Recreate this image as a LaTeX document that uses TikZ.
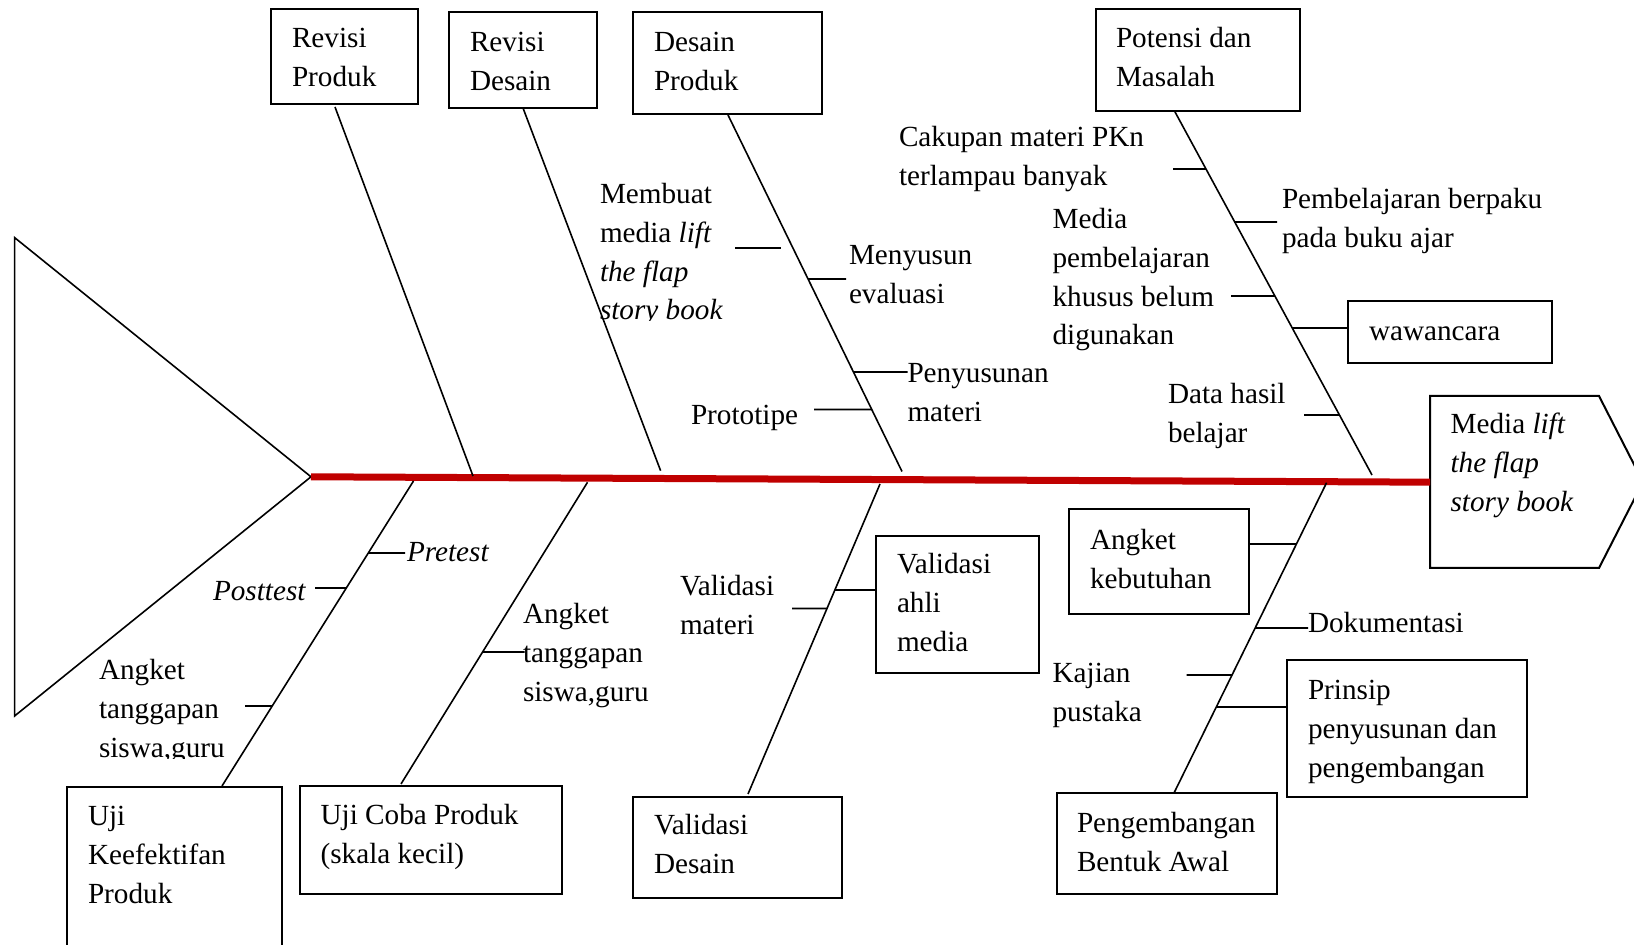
\documentclass[tikz,border=0pt]{standalone}
\usepackage{fontspec}
\setmainfont{Liberation Serif}
\usetikzlibrary{calc}
\definecolor{spinered}{RGB}{192,0,0}
\begin{document}
\begin{tikzpicture}[x=0.5pt,y=-0.5pt,
  ln/.style={line width=0.8pt},
  tick/.style={line width=0.9pt},
  box/.style={draw, line width=1pt, rectangle, inner sep=0pt, outer sep=0pt, anchor=north west},
  lbl/.style={anchor=north west, inner sep=0pt, outer sep=0pt, align=left, font=\fontsize{14.6}{19.4}\selectfont},
]
\useasboundingbox (0,0) rectangle (1634,945);

% fish tail (triangle) and head
\draw[ln] (14.6,237.6) -- (311,476.8) -- (14.6,716) -- cycle;
\draw[line width=1pt] (1430,396) -- (1599,396) -- (1643,482) -- (1599,568) -- (1430,568) -- cycle;
\node[lbl] (head) at (1450.6,406.3) {\strut Media \textit{lift}\\\textit{the flap}\\\textit{story book}};

% spine
\coordinate (sL) at (311,476.8);
\coordinate (sR) at (1430,482.2);
\draw[spinered, line width=3.5pt] (sL) -- (sR);

% boxes
\node[box, minimum width=73.5pt, minimum height=47.5pt] (rp) at (271,9) {};
\node[lbl] (rpt) at (292,20.5) {\strut Revisi\\Produk};
\node[box, minimum width=74pt, minimum height=48pt] (rd) at (449,12) {};
\node[lbl] (rdt) at (470,24.3) {\strut Revisi\\Desain};
\node[box, minimum width=94.5pt, minimum height=51pt] (dp) at (633,12) {};
\node[lbl] (dpt) at (654,24.3) {\strut Desain\\Produk};
\node[box, minimum width=102pt, minimum height=51pt] (pm) at (1096,9) {};
\node[lbl] (pmt) at (1116,20.3) {\strut Potensi dan\\Masalah};
\node[box, minimum width=102.25pt, minimum height=31pt] (ww) at (1347.5,301) {};
\node[lbl] (wwt) at (1369,313.3) {\strut wawancara};
\node[box, minimum width=90pt, minimum height=52.5pt] (ak) at (1069,509) {};
\node[lbl] (akt) at (1090,522.3) {\strut Angket\\kebutuhan};
\node[box, minimum width=81.5pt, minimum height=68.5pt] (vam) at (876,536) {};
\node[lbl] (vamt) at (897,546.3) {\strut Validasi\\ahli\\media};
\node[box, minimum width=120pt, minimum height=68.5pt] (pr) at (1287,660) {};
\node[lbl] (prt) at (1308,672.3) {\strut Prinsip\\penyusunan dan\\pengembangan};
\node[box, minimum width=110pt, minimum height=50.5pt] (pba) at (1057,793) {};
\node[lbl] (pbat) at (1077,805.3) {\strut Pengembangan\\Bentuk Awal};
\node[box, minimum width=104.5pt, minimum height=50.5pt] (vd) at (633,797) {};
\node[lbl] (vdt) at (654,807.3) {\strut Validasi\\Desain};
\node[box, minimum width=131pt, minimum height=54pt] (ucp) at (300,786) {};
\node[lbl] (ucpt) at (320.6,797.3) {\strut Uji Coba Produk\\(skala kecil)};
\node[box, minimum width=107.5pt, minimum height=89pt] (uk) at (67,787) {};
\node[lbl] (ukt) at (88,798.3) {\strut Uji\\Keefektifan\\Produk};

% bones
\coordinate (b1t) at (335,107);    \coordinate (b1b) at (473,476);
\coordinate (b2t) at (523,108);    \coordinate (b2b) at (660.6,470.7);
\coordinate (b3t) at (728,115);    \coordinate (b3b) at (902,471.5);
\coordinate (b4t) at (1174.5,111); \coordinate (b4b) at (1372,475);
\coordinate (b5t) at (413.5,481);  \coordinate (b5b) at (222,786);
\coordinate (b6t) at (587.5,482.3);\coordinate (b6b) at (401,784);
\coordinate (b7t) at (880,484);    \coordinate (b7b) at (748,794);
\coordinate (b8t) at (1326.6,482.7);\coordinate (b8b) at (1174,793);
\foreach \b in {1,...,8} {\draw[ln] (b\b t) -- (b\b b);}

% labels - Potensi dan Masalah bone
\node[lbl] (cak) at (899,119.3) {\strut Cakupan materi PKn\\terlampau banyak};
\draw[tick] (1173,169) -- ($(b4t)!0.1593!(b4b)$);
\node[lbl] (pbj) at (1282,181.3) {\strut Pembelajaran berpaku\\pada buku ajar};
\draw[tick] ($(b4t)!0.3049!(b4b)$) -- (1277,222);
\node[lbl] (mpk) at (1052.6,201.3) {\strut Media\\pembelajaran\\khusus belum\\digunakan};
\draw[tick] (1231,296) -- ($(b4t)!0.5082!(b4b)$);
\coordinate (wwp) at ($(b4t)!0.5962!(b4b)$);
\draw[tick] (wwp) -- (ww.west |- wwp);
\node[lbl] (dhb) at (1168,376.3) {\strut Data hasil\\belajar};
\draw[tick] (1304,415) -- ($(b4t)!0.8352!(b4b)$);

% labels - Desain Produk bone
\begin{scope}
\clip (590,150) rectangle (730,321);
\node[lbl] (mbt) at (600,176.3) {\strut Membuat\\media \textit{lift}\\\textit{the flap}\\\textit{story book}};
\end{scope}
\coordinate (mbt1) at (735,248);
\coordinate (mbt2) at (781,248);
\draw[tick] (mbt1) -- (mbt2);
\node[lbl] (mne) at (849,237.3) {\strut Menyusun\\evaluasi};
\draw[tick] ($(b3t)!0.46!(b3b)$) -- (846,279);
\node[lbl] (pnm) at (907.5,355.3) {\strut Penyusunan\\materi};
\draw[tick] ($(b3t)!0.7209!(b3b)$) -- (907.5,372);
\node[lbl] (pro) at (691,397.3) {\strut Prototipe};
\draw[tick] (814,409.5) -- ($(b3t)!0.826!(b3b)$);

% labels - Uji Keefektifan bone
\node[lbl] (pre) at (407,534.3) {\strut\textit{Pretest}};
\draw[tick] ($(b5t)!0.2361!(b5b)$) -- (405,553);
\node[lbl] (pos) at (213,573.3) {\strut\textit{Posttest}};
\draw[tick] (315,588) -- ($(b5t)!0.3508!(b5b)$);
\begin{scope}
\clip (90,630) rectangle (240,758.5);
\node[lbl] (atl) at (99,652.3) {\strut Angket\\tanggapan\\siswa,guru};
\end{scope}
\draw[tick] (245,706) -- ($(b5t)!0.7377!(b5b)$);

% labels - Uji Coba bone
\node[lbl] (atm) at (523,596.3) {\strut Angket\\tanggapan\\siswa,guru};
\draw[tick] ($(b6t)!0.5625!(b6b)$) -- (524.6,652);

% labels - Validasi Desain bone
\node[lbl] (vmt) at (680,568.3) {\strut Validasi\\materi};
\draw[tick] (792,608.6) -- ($(b7t)!0.4019!(b7b)$);
\coordinate (vap) at ($(b7t)!0.3419!(b7b)$);
\draw[line width=1pt] (vap) -- (vam.west |- vap);

% labels - Pengembangan bone
\coordinate (akp) at ($(b8t)!0.1976!(b8b)$);
\draw[tick] (ak.east |- akp) -- (akp);
\node[lbl] (dok) at (1308,605.3) {\strut Dokumentasi};
\draw[tick] ($(b8t)!0.4683!(b8b)$) -- (1308,628);
\node[lbl] (kjp) at (1052.6,655.3) {\strut Kajian\\pustaka};
\draw[tick] (1186.6,675) -- ($(b8t)!0.6197!(b8b)$);
\coordinate (prp) at ($(b8t)!0.7228!(b8b)$);
\draw[tick] (prp) -- (pr.west |- prp);
\end{tikzpicture}
\end{document}
